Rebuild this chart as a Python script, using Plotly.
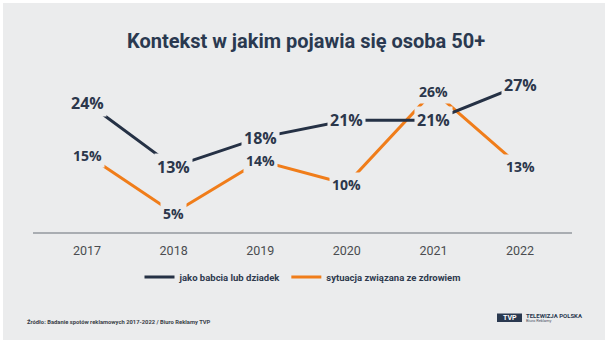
import plotly.graph_objects as go

years = ["2017", "2018", "2019", "2020", "2021", "2022"]
babcia = [24, 13, 18, 21, 21, 27]
zdrowie = [15, 5, 14, 10, 26, 13]
series_names = ["jako babcia lub dziadek", "sytuacja związana ze zdrowiem"]
title_text = "Kontekst w jakim pojawia się osoba 50+"
source_text = "Źródło: Badanie spotów reklamowych 2017-2022 / Biuro Reklamy TVP"

BG = "#ebeced"
NAVY = "#253145"
ORANGE = "#f07d1a"
LABEL = "#2b374b"
NARROW = "Liberation Sans Narrow, Roboto, sans-serif"

W, H = 609, 344
L, R, T, B = 33, 37, 60, 112

fig = go.Figure()
# orange drawn first so the navy line sits on top; legend order reversed
fig.add_trace(go.Scatter(x=years, y=zdrowie, mode="lines", name=series_names[1],
                         line=dict(color=ORANGE, width=3), hoverinfo="skip"))
fig.add_trace(go.Scatter(x=years, y=babcia, mode="lines", name=series_names[0],
                         line=dict(color=NAVY, width=3), hoverinfo="skip"))

annotations = []
for i, v in enumerate(zdrowie):
    annotations.append(dict(x=i, y=v, xref="x", yref="y", text=f"{v}%", showarrow=False,
                            font=dict(family="Open Sans", size=14, color=LABEL, weight=700),
                            bgcolor=BG, borderpad=2))
for i, v in enumerate(babcia):
    annotations.append(dict(x=i, y=v, xref="x", yref="y", text=f"{v}%", showarrow=False,
                            font=dict(family="Open Sans", size=16, color=LABEL, weight=700),
                            bgcolor=BG, borderpad=2))

# title
annotations.append(dict(x=0.503, y=(H - 41) / H, xref="paper", yref="paper", text=title_text,
                        showarrow=False, xanchor="center", yanchor="middle",
                        font=dict(family="Roboto", size=20, color="#2a3950", weight=700)))
# source
annotations.append(dict(x=25 / W, y=(H - 322) / H, xref="paper", yref="paper", text=source_text,
                        showarrow=False, xanchor="left", yanchor="middle",
                        font=dict(family=NARROW, size=5.8, color="#3a3f48", weight=700)))
# logo text
annotations.append(dict(x=509.5 / W, y=(H - 318) / H, xref="paper", yref="paper", text="TVP",
                        showarrow=False, xanchor="center", yanchor="middle",
                        font=dict(family="Roboto", size=7, color="#ffffff", weight=700)))
annotations.append(dict(x=524 / W, y=(H - 315.5) / H, xref="paper", yref="paper", text="TELEWIZJA POLSKA",
                        showarrow=False, xanchor="left", yanchor="middle",
                        font=dict(family="Roboto", size=6, color="#2a3950", weight=700)))
annotations.append(dict(x=524 / W, y=(H - 320.5) / H, xref="paper", yref="paper", text="Biuro Reklamy",
                        showarrow=False, xanchor="left", yanchor="middle",
                        font=dict(family="Roboto", size=4, color="#4a5060")))


def fix(a):
    # page-relative fractions -> plot-area-relative paper coords
    if a.get("xref") == "paper":
        px = a["x"] * W
        a["x"] = (px - L) / (W - L - R)
    if a.get("yref") == "paper":
        py = a["y"] * H
        a["y"] = (py - B) / (H - T - B)
    return a


annotations = [fix(a) for a in annotations]

PW, PH = (W - L - R), (H - T - B)
shapes = [
    dict(type="rect", xref="paper", yref="paper", layer="below",
         x0=(3 - L) / PW, x1=(605 - L) / PW,
         y0=(H - 340 - B) / PH, y1=(H - 3 - B) / PH,
         fillcolor=BG, line=dict(width=0)),
    dict(type="rect", xref="paper", yref="paper", layer="above",
         x0=(497 - L) / PW, x1=(522 - L) / PW,
         y0=(H - 322 - B) / PH, y1=(H - 313.5 - B) / PH,
         fillcolor="#2a3950", line=dict(width=0)),
]

fig.update_layout(
    width=W, height=H,
    margin=dict(l=L, r=R, t=T, b=B),
    paper_bgcolor="#ffffff",
    plot_bgcolor=BG,
    showlegend=True,
    legend=dict(orientation="h", x=0.5, xanchor="center", y=(232 - 277) / 172, yanchor="middle",
                font=dict(family=NARROW, size=9.5, color="#2e3a4d", weight=700),
                bgcolor="rgba(0,0,0,0)", itemwidth=30, tracegroupgap=0, traceorder="reversed"),
    xaxis=dict(type="category", range=[-0.624, 5.60], showgrid=False, zeroline=False,
               showline=True, linecolor="#a9adb2", linewidth=1.5,
               ticks="", ticklabelstandoff=6,
               tickfont=dict(family="Roboto", size=12.5, color="#4a4c50"),
               fixedrange=True),
    yaxis=dict(range=[1.724, 31.38], visible=False, showgrid=False, zeroline=False, fixedrange=True),
    annotations=annotations,
    shapes=shapes,
)

fig.write_html("out.html")
